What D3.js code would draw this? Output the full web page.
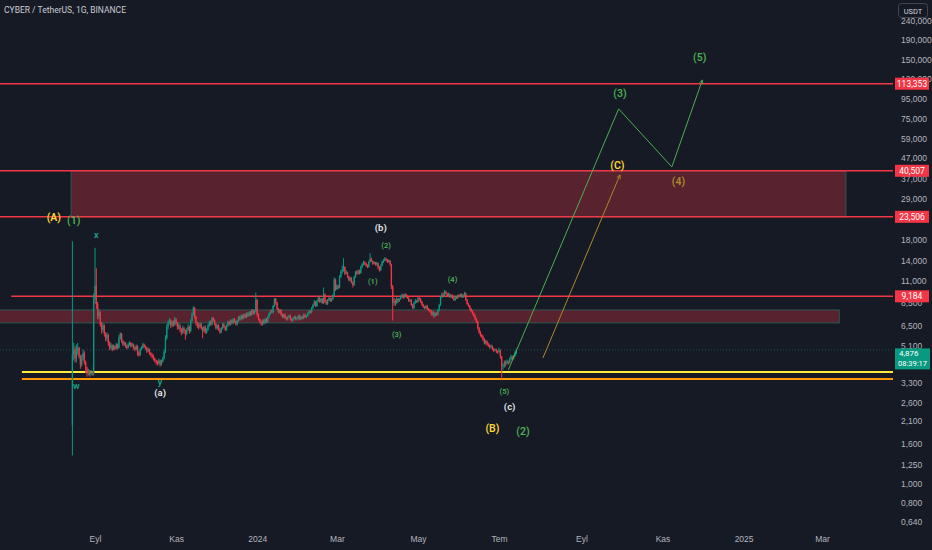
<!DOCTYPE html>
<html lang="tr">
<head>
    <meta charset="UTF-8">
    <title>CYBER / TetherUS, 1G, BINANCE</title>
    <script src="https://d3js.org/d3.v7.min.js"></script>
    <style>
        html, body { margin: 0; padding: 0; background: #161a25; }
        svg { display: block; font-family: Roboto, "Noto Sans", sans-serif; }
    </style>
</head>
<body>
<div id="chart"></div>
<script>
    // daily candles, first one on the listing day
    const startDate = "2023-08-15";
    const firstOpen = 2.0;
    const closes = [
        4.6, 4.9, 4.4, 4.8, 5.0, 4.5, 4.1, 4.4, 4.7, 4.2,
        3.9, 3.7, 3.8, 3.65, 3.75, 3.7, 8.9, 10.4, 8.4, 7.3,
        7.6, 6.6, 6.2, 6.5, 5.9, 5.6, 5.8, 5.3, 5.0, 5.15,
        4.9, 5.1, 4.95, 5.2, 5.0, 5.6, 5.9, 5.4, 5.2, 5.3,
        5.1, 5.0, 5.2, 5.3, 5.1, 5.2, 5.0, 4.9, 5.1, 4.7,
        4.6, 4.9, 5.0, 5.2, 5.1, 5.0, 4.8, 4.9, 4.7, 4.6,
        4.5, 4.4, 4.3, 4.2, 4.15, 4.3, 4.1, 4.25, 4.4, 4.75,
        5.6, 6.4, 6.7, 6.9, 6.5, 6.8, 6.6, 7.0, 6.7, 6.4,
        6.5, 6.2, 6.0, 6.3, 6.1, 5.9, 6.2, 6.4, 6.1, 6.9,
        7.4, 8.0, 7.2, 6.7, 6.5, 6.4, 6.6, 6.3, 6.1, 6.4,
        6.0, 6.2, 6.5, 6.8, 6.6, 7.1, 6.9, 6.6, 6.3, 6.5,
        6.2, 6.0, 6.3, 6.6, 6.4, 6.2, 6.5, 6.8, 6.6, 6.9,
        6.7, 7.0, 6.8, 6.6, 6.9, 7.2, 7.0, 7.3, 7.1, 7.4,
        7.2, 7.5, 7.3, 7.6, 7.4, 7.8, 7.5, 7.7, 8.8, 7.4,
        7.0, 6.8, 6.6, 6.9, 6.7, 7.0, 6.8, 7.2, 7.5, 7.7,
        7.6, 8.2, 8.9, 8.5, 7.9, 7.6, 7.8, 7.4, 7.2, 7.4,
        7.1, 7.0, 7.2, 7.3, 7.0, 6.9, 7.1, 7.2, 7.0, 7.1,
        7.3, 7.0, 7.2, 7.1, 7.4, 7.2, 7.3, 7.5, 7.7, 7.6,
        8.0, 8.3, 8.6, 8.2, 8.7, 9.0, 8.6, 8.9, 8.5, 9.4,
        8.6, 8.4, 8.8, 9.0, 8.7, 8.9, 9.3, 11.2, 10.0, 10.4,
        10.2, 11.6, 12.3, 12.6, 13.0, 12.0, 12.2, 11.6, 11.1, 11.4,
        10.8, 10.5, 11.5, 12.2, 12.0, 12.4, 12.1, 13.0, 13.4, 13.7,
        13.5, 13.2, 13.0, 13.8, 14.3, 13.9, 13.5, 13.7, 13.4, 13.6,
        12.9, 12.5, 13.2, 13.8, 14.0, 14.3, 14.1, 13.8, 14.0, 13.4,
        10.3, 8.5, 8.7, 8.5, 8.9, 8.7, 8.9, 9.2, 9.3, 9.1,
        9.4, 9.2, 9.0, 8.7, 8.8, 8.3, 8.0, 8.5, 8.7, 8.6,
        9.0, 8.9, 8.6, 8.3, 8.1, 8.0, 8.2, 7.9, 7.8, 7.7,
        7.5, 7.6, 7.3, 7.5, 7.4, 7.8, 8.3, 9.1, 9.4, 9.3,
        9.7, 9.5, 9.2, 9.4, 9.1, 9.3, 9.0, 8.8, 9.1, 9.0,
        9.3, 9.2, 9.4, 9.1, 9.3, 9.5, 8.8, 8.4, 8.2, 7.9,
        7.7, 7.5, 7.3, 7.0, 6.8, 6.3, 6.0, 5.8, 5.7, 5.5,
        5.3, 5.4, 5.2, 5.15, 5.05, 5.1, 4.95, 4.85, 4.9, 4.8,
        4.76, 4.85, 4.5, 4.0, 4.05, 4.2, 4.15, 4.25, 4.2, 4.35, 4.5, 4.4, 4.55, 4.7, 4.876
    ];
    const highs = [
        17.6, 5.3, 5.1, 5.2, 5.3, 5.05, 4.6, 4.6, 4.9, 4.8,
        4.3, 4.0, 3.9, 3.85, 3.85, 3.8, 9.5, 16.3, 12.8, 8.6,
        7.9, 7.7, 6.8, 6.7, 6.6, 6.0, 6.0, 5.9, 5.4, 5.3,
        5.2, 5.2, 5.15, 5.3, 5.25, 5.8, 6.0, 5.95, 5.5, 5.4,
        5.35, 5.2, 5.3, 5.4, 5.35, 5.3, 5.25, 5.1, 5.2, 5.15,
        4.8, 5.0, 5.1, 5.3, 5.25, 5.15, 5.05, 5.0, 4.95, 4.75,
        4.7, 4.6, 4.45, 4.35, 4.3, 4.4, 4.35, 4.35, 4.5, 4.9,
        5.8, 6.6, 6.9, 7.1, 7.0, 6.9, 6.9, 7.2, 7.1, 6.8,
        6.7, 6.6, 6.3, 6.5, 6.4, 6.2, 6.3, 6.6, 6.5, 7.0,
        7.6, 8.2, 8.1, 7.3, 6.8, 6.7, 6.8, 6.7, 6.4, 6.5,
        6.5, 6.3, 6.6, 6.9, 6.9, 7.2, 7.2, 7.0, 6.7, 6.6,
        6.6, 6.3, 6.4, 6.7, 6.7, 6.5, 6.6, 6.9, 6.9, 7.0,
        7.0, 7.1, 7.1, 6.9, 7.0, 7.3, 7.3, 7.4, 7.4, 7.5,
        7.5, 7.6, 7.6, 7.7, 7.7, 7.9, 7.9, 7.8, 9.6, 8.9,
        7.5, 7.1, 6.9, 7.0, 7.0, 7.1, 7.1, 7.3, 7.6, 7.8,
        7.9, 8.3, 9.0, 9.0, 8.6, 8.0, 7.9, 7.9, 7.5, 7.5,
        7.5, 7.2, 7.3, 7.4, 7.4, 7.1, 7.2, 7.3, 7.3, 7.2,
        7.4, 7.4, 7.3, 7.3, 7.5, 7.5, 7.4, 7.6, 7.8, 7.8,
        8.1, 8.4, 8.8, 8.7, 8.8, 9.2, 9.1, 9.0, 9.0, 10.2,
        9.5, 8.8, 8.9, 9.1, 9.1, 9.0, 9.4, 11.5, 11.3, 10.6,
        10.5, 11.8, 12.5, 13.2, 14.4, 13.1, 12.5, 12.3, 11.7, 11.6,
        11.5, 11.0, 11.7, 12.4, 12.5, 12.6, 12.6, 13.2, 13.6, 14.0,
        13.9, 13.7, 13.4, 14.0, 15.3, 14.5, 14.0, 13.9, 13.8, 13.8,
        13.7, 13.1, 13.4, 14.0, 14.3, 14.6, 14.5, 14.3, 14.2, 14.1,
        13.5, 10.5, 9.0, 8.9, 9.1, 9.0, 9.0, 9.3, 9.5, 9.4,
        9.5, 9.5, 9.3, 9.1, 8.9, 8.9, 8.4, 8.6, 8.9, 8.8,
        9.1, 9.1, 9.0, 8.7, 8.4, 8.2, 8.3, 8.3, 8.0, 7.9,
        7.8, 7.7, 7.7, 7.6, 7.6, 7.9, 8.4, 9.2, 9.6, 9.6,
        9.9, 9.8, 9.6, 9.6, 9.5, 9.4, 9.4, 9.1, 9.2, 9.2,
        9.4, 9.4, 9.5, 9.5, 9.4, 9.7, 9.6, 8.9, 8.5, 8.3,
        8.0, 7.8, 7.6, 7.4, 7.1, 6.9, 6.4, 6.1, 5.9, 5.8,
        5.6, 5.5, 5.45, 5.3, 5.2, 5.2, 5.15, 5.0, 4.95, 4.95,
        4.85, 5.0, 4.9, 4.55, 4.15, 4.3, 4.3, 4.35, 4.3, 4.45, 4.6, 4.55, 4.6, 4.8, 4.95
    ];
    const lows = [
        1.4, 4.3, 4.2, 4.2, 4.6, 4.4, 3.9, 4.0, 4.3, 4.1,
        3.7, 3.55, 3.6, 3.55, 3.6, 3.6, 3.6, 8.4, 7.9, 7.0,
        7.0, 6.4, 5.9, 6.0, 5.7, 5.4, 5.4, 5.1, 4.85, 4.9,
        4.8, 4.85, 4.85, 4.9, 4.9, 4.95, 5.5, 5.3, 5.1, 5.1,
        5.0, 4.9, 4.95, 5.1, 5.0, 5.05, 4.9, 4.8, 4.85, 4.55,
        4.5, 4.55, 4.85, 4.95, 5.0, 4.9, 4.7, 4.75, 4.6, 4.5,
        4.4, 4.3, 4.2, 4.1, 4.05, 4.1, 4.0, 4.05, 4.2, 4.35,
        4.7, 5.5, 6.2, 6.6, 6.3, 6.4, 6.4, 6.5, 6.5, 6.2,
        6.2, 6.0, 5.8, 5.9, 5.9, 5.5, 5.8, 6.1, 5.9, 6.0,
        6.8, 7.3, 7.0, 6.5, 6.3, 6.2, 6.3, 6.2, 5.6, 6.0,
        5.9, 5.9, 6.1, 6.4, 6.5, 6.5, 6.8, 6.5, 6.2, 6.2,
        6.1, 5.9, 5.95, 6.2, 6.3, 6.1, 6.1, 6.4, 6.5, 6.5,
        6.6, 6.6, 6.7, 6.5, 6.5, 6.8, 6.9, 6.9, 7.0, 7.0,
        7.1, 7.1, 7.2, 7.2, 7.3, 7.3, 7.4, 7.4, 7.6, 7.2,
        6.9, 6.7, 6.5, 6.5, 6.6, 6.6, 6.7, 6.7, 7.1, 7.4,
        7.5, 7.5, 8.1, 8.3, 7.8, 7.5, 7.5, 7.3, 7.1, 7.1,
        7.0, 6.9, 6.9, 7.1, 6.9, 6.8, 6.8, 7.0, 6.9, 6.9,
        7.0, 6.9, 6.95, 7.0, 7.0, 7.1, 7.1, 7.2, 7.4, 7.5,
        7.5, 7.9, 8.2, 8.1, 8.1, 8.6, 8.5, 8.5, 8.4, 8.4,
        8.5, 8.3, 8.3, 8.7, 8.6, 8.6, 8.8, 9.2, 9.8, 9.9,
        10.0, 10.1, 11.4, 12.0, 12.3, 11.8, 11.9, 11.4, 11.0, 10.9,
        10.7, 10.2, 10.4, 11.4, 11.8, 11.9, 11.9, 12.0, 12.8, 13.2,
        13.3, 13.0, 12.8, 12.9, 13.7, 13.8, 13.3, 13.4, 13.2, 13.2,
        12.7, 12.3, 12.4, 13.1, 13.6, 13.9, 13.9, 13.6, 13.7, 13.2,
        10.0, 6.9, 8.2, 8.2, 8.4, 8.5, 8.6, 8.8, 9.0, 8.9,
        9.0, 9.1, 8.9, 8.6, 8.6, 8.2, 7.9, 7.9, 8.4, 8.5,
        8.5, 8.7, 8.5, 8.2, 8.0, 7.9, 7.9, 7.8, 7.7, 7.6,
        7.3, 7.3, 7.1, 7.2, 7.3, 7.3, 7.7, 8.2, 9.0, 9.1,
        9.2, 9.4, 9.1, 9.1, 9.0, 9.0, 8.9, 8.7, 8.7, 8.9,
        8.9, 9.1, 9.1, 9.0, 9.0, 9.2, 8.7, 8.3, 8.1, 7.8,
        7.6, 7.4, 7.2, 6.9, 6.7, 6.2, 5.9, 5.7, 5.6, 5.4,
        5.2, 5.2, 5.1, 5.05, 4.95, 4.95, 4.85, 4.75, 4.8, 4.7,
        4.65, 4.7, 4.4, 3.46, 3.85, 3.95, 4.0, 4.1, 4.1, 4.15, 4.3, 4.3, 4.35, 4.5, 4.65
    ];
    const lastTimer = "08:39:17";

    // axes
    const priceTicks = [240, 190, 150, 120, 95, 75, 59, 47, 37, 29, 18, 14, 11, 8.5, 6.5, 5.1, 3.3, 2.6, 2.1, 1.6, 1.25, 1, 0.8, 0.64];
    const monthTicks = ["2023-09-01", "2023-11-01", "2024-01-01", "2024-03-01", "2024-05-01", "2024-07-01",
                        "2024-09-01", "2024-11-01", "2025-01-01", "2025-03-01"];
    const monthLabels = ["Eyl", "Kas", "2024", "Mar", "May", "Tem", "Eyl", "Kas", "2025", "Mar"];

    // drawings
    const redLevels = [113.353, 40.507, 23.506, 9.184];
    const redLevelStarts = [null, null, null, "2023-06-30"];
    const supportLevels = [3.76, 3.46];
    const supportStart = "2023-07-08";
    const zoneTops = [40.507, 7.82];
    const zoneBottoms = [23.506, 6.71];
    const zoneStarts = ["2023-08-14", "2023-06-21"];
    const zoneEnds = ["2025-03-19", "2025-03-14"];

    const greenPathDates = ["2024-07-08", "2024-09-29", "2024-11-08", "2024-12-01"];
    const greenPathPrices = [3.85, 84.2, 42.4, 118.5];
    const orangePathDates = ["2024-08-03", "2024-09-30"];
    const orangePathPrices = [4.43, 38.6];

    const labelsABC = [["(A)", "2023-08-01", 23.2], ["(B)", "2024-06-26", 1.92], ["(C)", "2024-09-28", 42.9]];
    const labelsImpulse = [["(1)", "2023-08-16", 22.4], ["(2)", "2024-07-19", 1.85], ["(3)", "2024-09-30", 100.5], ["(5)", "2024-11-29", 154.3]];
    const labelsWave4 = [["(4)", "2024-11-13", 35.6]];
    const labelsMinor = [["(1)", "2024-03-28", 10.9], ["(2)", "2024-04-07", 16.7], ["(3)", "2024-04-15", 5.82],
                         ["(4)", "2024-05-27", 11.15], ["(5)", "2024-07-05", 2.97]];
    const labelsSmallABC = [["(a)", "2023-10-20", 2.94], ["(b)", "2024-04-03", 20.6], ["(c)", "2024-07-09", 2.49]];
    const labelsWXY = [["w", "2023-08-18", 3.18], ["x", "2023-09-02", 19.0], ["y", "2023-10-20", 3.35]];

    const width = 932;
    const height = 550;
    const plotW = 893;
    const plotH = 530;
    const bg = "#161a25";
    const upColor = "#089981";
    const downColor = "#f23645";

    const parse = d3.utcParse("%Y-%m-%d");
    const trFormat = d3.formatLocale({ decimal: ",", thousands: ".", grouping: [3], currency: ["", ""] }).format(".3f");

    const candles = closes.map((c, i) => ({
        date: d3.utcDay.offset(parse(startDate), i),
        open: i === 0 ? firstOpen : closes[i - 1],
        high: highs[i],
        low: lows[i],
        close: c
    }));

    // time scale calibrated on two month ticks, log price scale
    const x = d3.scaleUtc()
        .domain([parse(monthTicks[0]), parse(monthTicks[monthTicks.length - 1])])
        .range([95, 822]);
    const y = d3.scaleLog()
        .domain([0.58, 305])
        .range([plotH, 0]);

    const svg = d3.select("#chart")
        .append("svg")
        .attr("width", width)
        .attr("height", height)
        .style("background", bg);

    const defs = svg.append("defs");
    defs.append("clipPath").attr("id", "plot-clip")
        .append("rect").attr("width", plotW).attr("height", plotH);

    function arrowMarker(id, color) {
        defs.append("marker")
            .attr("id", id)
            .attr("viewBox", "0 0 10 10")
            .attr("refX", 9).attr("refY", 5)
            .attr("markerWidth", 5).attr("markerHeight", 5)
            .attr("orient", "auto")
            .append("path")
            .attr("d", "M1,1 L9,5 L1,9")
            .attr("fill", "none")
            .attr("stroke", color)
            .attr("stroke-width", 1.6);
    }
    arrowMarker("arrow-green", "#4caf50");
    arrowMarker("arrow-orange", "#a88a2c");

    // y axis labels (drawn before the price boxes, which cover some of them)
    const yAxis = d3.axisRight(y)
        .tickValues(priceTicks)
        .tickFormat(trFormat)
        .tickSize(0)
        .tickPadding(0);
    const yAxisG = svg.append("g")
        .attr("transform", `translate(901,0)`)
        .call(yAxis);
    yAxisG.select(".domain").remove();
    yAxisG.selectAll("text")
        .attr("fill", "#b2b5be")
        .style("font-size", "8.5px");

    // x axis labels
    const xAxis = d3.axisBottom(x)
        .tickValues(monthTicks.map(parse))
        .tickFormat((d, i) => monthLabels[i])
        .tickSize(0)
        .tickPadding(0);
    const xAxisG = svg.append("g")
        .attr("transform", `translate(0,536)`)
        .call(xAxis);
    xAxisG.select(".domain").remove();
    xAxisG.selectAll("text")
        .attr("fill", "#b2b5be")
        .style("font-size", "8.5px");

    const plot = svg.append("g").attr("clip-path", "url(#plot-clip)");

    // zones
    plot.selectAll(".zone")
        .data(zoneTops)
        .join("rect")
        .attr("class", "zone")
        .attr("x", (d, i) => x(parse(zoneStarts[i])))
        .attr("width", (d, i) => x(parse(zoneEnds[i])) - x(parse(zoneStarts[i])))
        .attr("y", d => y(d))
        .attr("height", (d, i) => y(zoneBottoms[i]) - y(d))
        .attr("fill", "rgba(242,54,69,0.3)")
        .attr("stroke", "#2f5752")
        .attr("stroke-width", 1);

    // last price dotted line
    const lastClose = closes[closes.length - 1];
    plot.append("line")
        .attr("x1", 0).attr("x2", plotW)
        .attr("y1", y(lastClose)).attr("y2", y(lastClose))
        .attr("stroke", "#1f4f49")
        .attr("stroke-width", 1)
        .attr("stroke-dasharray", "1,2");

    // red horizontal levels
    plot.selectAll(".level")
        .data(redLevels)
        .join("line")
        .attr("class", "level")
        .attr("x1", (d, i) => redLevelStarts[i] ? x(parse(redLevelStarts[i])) : 0)
        .attr("x2", plotW)
        .attr("y1", d => y(d)).attr("y2", d => y(d))
        .attr("stroke", downColor)
        .attr("stroke-width", 1.5);

    // yellow / orange support lines
    const supportColors = ["#ffeb3b", "#ff9800"];
    plot.selectAll(".support")
        .data(supportLevels)
        .join("line")
        .attr("class", "support")
        .attr("x1", x(parse(supportStart)))
        .attr("x2", plotW)
        .attr("y1", d => y(d)).attr("y2", d => y(d))
        .attr("stroke", (d, i) => supportColors[i])
        .attr("stroke-width", 2);

    // candles
    const candleG = plot.append("g");
    candleG.selectAll(".wick")
        .data(candles)
        .join("line")
        .attr("class", "wick")
        .attr("x1", d => x(d.date)).attr("x2", d => x(d.date))
        .attr("y1", d => y(d.high)).attr("y2", d => y(d.low))
        .attr("stroke", d => d.close >= d.open ? upColor : downColor)
        .attr("stroke-width", 1);
    candleG.selectAll(".body")
        .data(candles)
        .join("rect")
        .attr("class", "body")
        .attr("x", d => x(d.date) - 0.65)
        .attr("width", 1.3)
        .attr("y", d => y(Math.max(d.open, d.close)))
        .attr("height", d => Math.max(0.8, Math.abs(y(d.open) - y(d.close))))
        .attr("fill", d => d.close >= d.open ? upColor : downColor);

    // projected waves
    const waveLine = d3.line()
        .x(d => x(parse(d[0])))
        .y(d => y(d[1]));
    plot.append("path")
        .attr("d", waveLine(d3.zip(greenPathDates, greenPathPrices)))
        .attr("fill", "none")
        .attr("stroke", "#4caf50")
        .attr("stroke-width", 1)
        .attr("marker-end", "url(#arrow-green)");
    plot.append("path")
        .attr("d", waveLine(d3.zip(orangePathDates, orangePathPrices)))
        .attr("fill", "none")
        .attr("stroke", "#a88a2c")
        .attr("stroke-width", 1)
        .attr("marker-end", "url(#arrow-orange)");

    // wave labels
    function addLabels(list, color, size, weight) {
        plot.selectAll(null)
            .data(list)
            .join("text")
            .attr("x", d => x(parse(d[1])))
            .attr("y", d => y(d[2]))
            .attr("text-anchor", "middle")
            .attr("dominant-baseline", "central")
            .attr("fill", color)
            .style("font-size", size + "px")
            .style("font-weight", weight)
            .text(d => d[0]);
    }
    addLabels(labelsABC, "#fdd835", 10.5, 600);
    addLabels(labelsImpulse, "#4caf50", 10.5, 600);
    addLabels(labelsWave4, "#a88a2c", 10.5, 600);
    addLabels(labelsMinor, "#4caf50", 7.5, 600);
    addLabels(labelsSmallABC, "#e6e7ea", 9.5, 600);
    addLabels(labelsWXY, "#1a9a84", 9, 700);

    // title
    svg.append("text")
        .attr("x", 4).attr("y", 13)
        .attr("fill", "#c9ccd3")
        .style("font-size", "8.5px")
        .text("CYBER / TetherUS, 1G, BINANCE");

    // currency button
    svg.append("rect")
        .attr("x", 898.5).attr("y", 3.5)
        .attr("width", 29).attr("height", 14)
        .attr("rx", 3)
        .attr("fill", bg)
        .attr("stroke", "#434651");
    svg.append("text")
        .attr("x", 913).attr("y", 11)
        .attr("text-anchor", "middle")
        .attr("dominant-baseline", "central")
        .attr("fill", "#d1d4dc")
        .style("font-size", "7.5px")
        .text("USDT");

    // price boxes for the red levels
    const boxes = svg.selectAll(".pbox")
        .data(redLevels)
        .join("g")
        .attr("class", "pbox")
        .attr("transform", d => `translate(895,${y(d)})`);
    boxes.append("rect")
        .attr("x", 0).attr("y", -6)
        .attr("width", 34).attr("height", 12)
        .attr("fill", downColor);
    boxes.append("text")
        .attr("x", 17).attr("y", 0)
        .attr("text-anchor", "middle")
        .attr("dominant-baseline", "central")
        .attr("fill", "#ffffff")
        .style("font-size", "8.5px")
        .text(d => trFormat(d));

    // last price box with countdown
    const lastBox = svg.append("g")
        .attr("transform", `translate(895,${y(lastClose)})`);
    lastBox.append("rect")
        .attr("x", 0).attr("y", -1.5)
        .attr("width", 35).attr("height", 21)
        .attr("fill", upColor);
    lastBox.append("text")
        .attr("x", 4).attr("y", 4)
        .attr("dominant-baseline", "central")
        .attr("fill", "#ffffff")
        .style("font-size", "8px")
        .text(trFormat(lastClose));
    lastBox.append("text")
        .attr("x", 3).attr("y", 13.5)
        .attr("dominant-baseline", "central")
        .attr("fill", "#ffffff")
        .style("font-size", "7.5px")
        .text(lastTimer);
</script>
</body>
</html>
